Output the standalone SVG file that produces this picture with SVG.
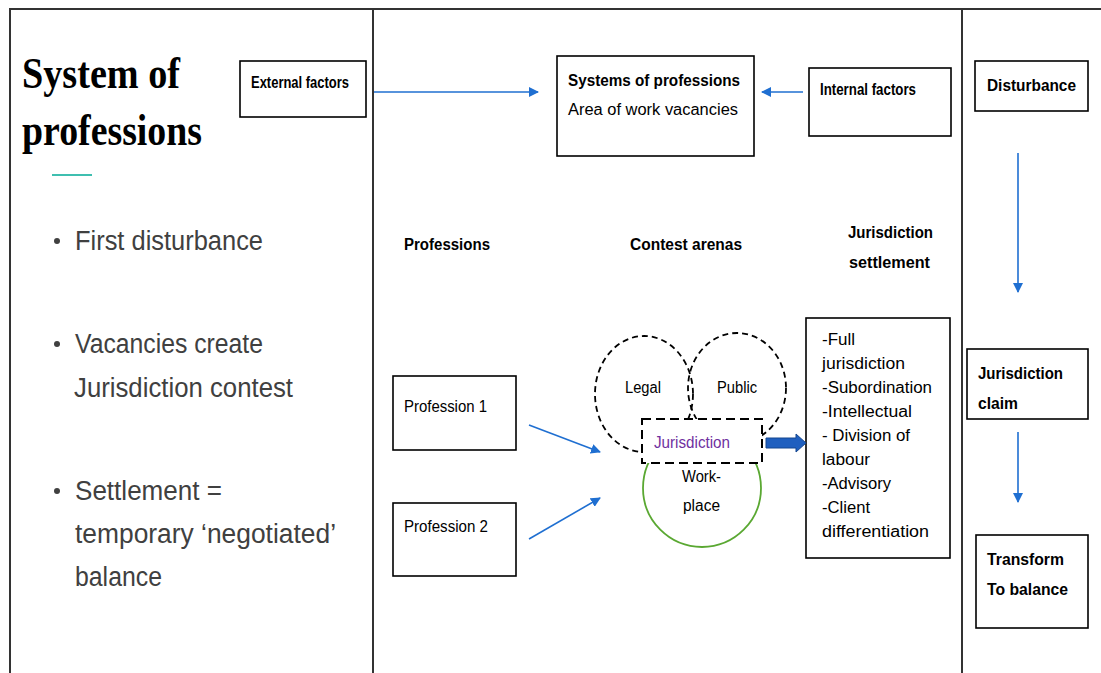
<svg xmlns="http://www.w3.org/2000/svg" width="1101" height="673" viewBox="0 0 1101 673">
<defs>
<style>
.box{fill:#fff;stroke:#000;stroke-width:1.6}
.frame{stroke:#333;stroke-width:2;fill:none}
.conn{stroke:#1f6fd1;stroke-width:1.6;fill:none}
.b{font-family:"Liberation Sans Narrow","Liberation Sans",Arial,sans-serif;font-weight:bold;font-size:16px;fill:#000}
.r{font-family:"Liberation Sans","Open Sans",Arial,sans-serif;font-size:16px;fill:#000}
.bul{font-family:"Liberation Sans","Open Sans",Arial,sans-serif;font-size:27px;fill:#404040}
.title{font-family:"Liberation Serif","Times New Roman",serif;font-weight:bold;font-size:44px;fill:#000}
.dash{fill:none;stroke:#000;stroke-width:1.8;stroke-dasharray:6,4}
.jur{fill:#7030a0}
</style>
<marker id="ah" viewBox="0 0 10 10" refX="9" refY="5" markerWidth="10" markerHeight="10" markerUnits="userSpaceOnUse" orient="auto">
<path d="M0,0 L10,5 L0,10 z" fill="#1f6fd1"/>
</marker>
</defs>
<rect width="1101" height="673" fill="#fff"/>
<g id="frame">
<line class="frame" x1="9" y1="9" x2="1101" y2="9"/>
<line class="frame" x1="10" y1="8" x2="10" y2="673"/>
<line class="frame" x1="373" y1="9" x2="373" y2="673"/>
<line class="frame" x1="962" y1="9" x2="962" y2="673"/>
</g>
<g id="title">
<text class="title" x="22" y="88" textLength="158" lengthAdjust="spacingAndGlyphs">System of</text>
<text class="title" x="22" y="145" textLength="180" lengthAdjust="spacingAndGlyphs">professions</text>
<line x1="52" y1="175" x2="92" y2="175" stroke="#3fbfb0" stroke-width="2"/>
</g>
<g id="bullets">
<circle cx="57" cy="241" r="3" fill="#404040"/>
<text class="bul" x="75" y="250" textLength="188" lengthAdjust="spacingAndGlyphs">First disturbance</text>
<circle cx="57" cy="344" r="3" fill="#404040"/>
<text class="bul" x="75" y="353" textLength="188" lengthAdjust="spacingAndGlyphs">Vacancies create</text>
<text class="bul" x="74" y="397" textLength="219" lengthAdjust="spacingAndGlyphs">Jurisdiction contest</text>
<circle cx="57" cy="491" r="3" fill="#404040"/>
<text class="bul" x="75" y="500" textLength="147" lengthAdjust="spacingAndGlyphs">Settlement =</text>
<text class="bul" x="75" y="543" textLength="261" lengthAdjust="spacingAndGlyphs">temporary ‘negotiated’</text>
<text class="bul" x="75" y="586" textLength="87" lengthAdjust="spacingAndGlyphs">balance</text>
</g>
<g id="external">
<rect class="box" x="240" y="61" width="126" height="56"/>
<text class="b" x="251" y="88" font-size="15" textLength="98" lengthAdjust="spacingAndGlyphs">External factors</text>
</g>
<g id="system">
<rect class="box" x="557" y="56" width="197" height="100"/>
<text class="b" x="568" y="86" font-size="17" textLength="172" lengthAdjust="spacingAndGlyphs">Systems of professions</text>
<text class="r" x="568" y="115" font-size="17" textLength="170" lengthAdjust="spacingAndGlyphs">Area of work vacancies</text>
</g>
<g id="internal">
<rect class="box" x="809" y="68" width="142" height="68"/>
<text class="b" x="820" y="95" font-size="15" textLength="96" lengthAdjust="spacingAndGlyphs">Internal factors</text>
</g>
<g id="disturbance">
<rect class="box" x="975" y="61" width="113" height="50"/>
<text class="b" x="987" y="91" font-size="17" textLength="89" lengthAdjust="spacingAndGlyphs">Disturbance</text>
</g>
<g id="claim">
<rect class="box" x="967" y="349" width="121" height="70"/>
<text class="b" x="978" y="379" font-size="17" textLength="85" lengthAdjust="spacingAndGlyphs">Jurisdiction</text>
<text class="b" x="978" y="409" font-size="17" textLength="40" lengthAdjust="spacingAndGlyphs">claim</text>
</g>
<g id="transform">
<rect class="box" x="976" y="535" width="112" height="93"/>
<text class="b" x="987" y="565" font-size="17" textLength="77" lengthAdjust="spacingAndGlyphs">Transform</text>
<text class="b" x="987" y="595" font-size="17" textLength="81" lengthAdjust="spacingAndGlyphs">To balance</text>
</g>
<g id="headers">
<text class="b" x="404" y="250" font-size="17" textLength="86" lengthAdjust="spacingAndGlyphs">Professions</text>
<text class="b" x="630" y="250" font-size="17" textLength="112" lengthAdjust="spacingAndGlyphs">Contest arenas</text>
<text class="b" x="848" y="238" font-size="17" textLength="85" lengthAdjust="spacingAndGlyphs">Jurisdiction</text>
<text class="b" x="849" y="268" font-size="17" textLength="81" lengthAdjust="spacingAndGlyphs">settlement</text>
</g>
<g id="profession1">
<rect class="box" x="393" y="376" width="123" height="74"/>
<text class="r" x="404" y="412" textLength="83" lengthAdjust="spacingAndGlyphs">Profession 1</text>
</g>
<g id="profession2">
<rect class="box" x="393" y="503" width="123" height="73"/>
<text class="r" x="404" y="532" textLength="84" lengthAdjust="spacingAndGlyphs">Profession 2</text>
</g>
<g id="arenas">
<circle cx="702" cy="488" r="59" fill="none" stroke="#5aa832" stroke-width="1.8"/>
<ellipse class="dash" cx="644" cy="394" rx="49" ry="58"/>
<ellipse class="dash" cx="737" cy="388" rx="49" ry="55"/>
<rect x="642" y="419" width="120" height="44" fill="#fff" stroke="#000" stroke-width="2" stroke-dasharray="9,5"/>
<text class="r" x="625" y="393" textLength="36" lengthAdjust="spacingAndGlyphs">Legal</text>
<text class="r" x="717" y="393" textLength="40" lengthAdjust="spacingAndGlyphs">Public</text>
<text class="r jur" x="654" y="448" textLength="76" lengthAdjust="spacingAndGlyphs">Jurisdiction</text>
<text class="r" x="682" y="482" textLength="39" lengthAdjust="spacingAndGlyphs">Work-</text>
<text class="r" x="683" y="511" textLength="37" lengthAdjust="spacingAndGlyphs">place</text>
</g>
<g id="settlement">
<rect class="box" x="806" y="318" width="144" height="240"/>
<text class="r" x="822" y="345" textLength="33" lengthAdjust="spacingAndGlyphs">-Full</text>
<text class="r" x="822" y="369" textLength="83" lengthAdjust="spacingAndGlyphs">jurisdiction</text>
<text class="r" x="822" y="393" textLength="110" lengthAdjust="spacingAndGlyphs">-Subordination</text>
<text class="r" x="822" y="417" textLength="90" lengthAdjust="spacingAndGlyphs">-Intellectual</text>
<text class="r" x="822" y="441" textLength="88" lengthAdjust="spacingAndGlyphs">- Division of</text>
<text class="r" x="822" y="465" textLength="48" lengthAdjust="spacingAndGlyphs">labour</text>
<text class="r" x="822" y="489" textLength="69" lengthAdjust="spacingAndGlyphs">-Advisory</text>
<text class="r" x="822" y="513" textLength="48" lengthAdjust="spacingAndGlyphs">-Client</text>
<text class="r" x="822" y="537" textLength="107" lengthAdjust="spacingAndGlyphs">differentiation</text>
</g>
<g id="connectors">
<line class="conn" x1="374" y1="92" x2="538" y2="92" marker-end="url(#ah)"/>
<line class="conn" x1="803" y1="92" x2="762" y2="92" marker-end="url(#ah)"/>
<line class="conn" x1="1018" y1="153" x2="1018" y2="292" marker-end="url(#ah)"/>
<line class="conn" x1="1018" y1="432" x2="1018" y2="502" marker-end="url(#ah)"/>
<line class="conn" x1="529" y1="425" x2="600" y2="452" marker-end="url(#ah)"/>
<line class="conn" x1="529" y1="539" x2="600" y2="498" marker-end="url(#ah)"/>
<path d="M766,438 L796,438 L796,434 L806,443 L796,452 L796,448 L766,448 z" fill="#1f5fbf" stroke="#14468f" stroke-width="1"/>
</g>
</svg>
